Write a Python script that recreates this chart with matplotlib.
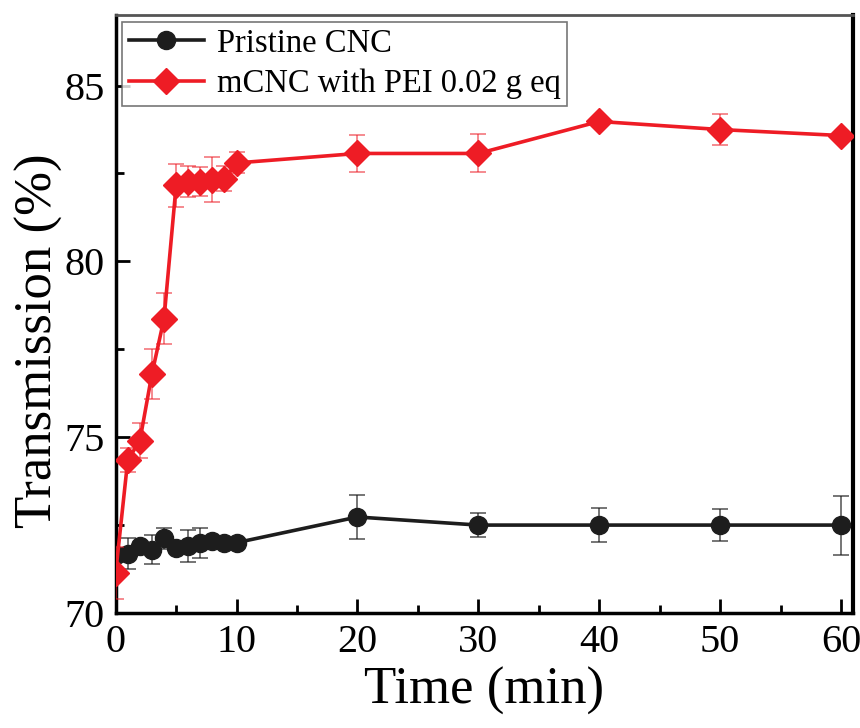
import matplotlib.pyplot as plt
from matplotlib.lines import Line2D
from matplotlib.ticker import MultipleLocator

# Données
temps = [0, 1, 2, 3, 4, 5, 6, 7, 8, 9, 10, 20, 30, 40, 50, 60]
cnc = [71.65, 71.68, 71.9, 71.8, 72.13, 71.85, 71.9, 72.0, 72.05, 72.0, 72.0,
       72.73, 72.5, 72.5, 72.5, 72.5]
cnc_err = [0.1, 0.44, 0.1, 0.42, 0.3, 0.1, 0.46, 0.43, 0.1, 0.1, 0.1,
           0.62, 0.34, 0.48, 0.45, 0.84]
mcnc = [71.14, 74.35, 74.9, 76.8, 78.37, 82.16, 82.27, 82.27, 82.32, 82.35, 82.8,
        83.07, 83.07, 83.98, 83.75, 83.58]
mcnc_err = [0.75, 0.34, 0.49, 0.7, 0.73, 0.62, 0.44, 0.42, 0.64, 0.35, 0.3,
            0.52, 0.54, 0.1, 0.44, 0.1]

noir = "#1d1d1d"
rouge = "#ee1c25"

plt.rcParams["font.family"] = ["Liberation Serif", "DejaVu Serif"]

fig = plt.figure(figsize=(8.6, 7.28), dpi=100)
ax = fig.add_axes([0.1345, 0.158, 0.8575, 0.821])

ax.errorbar(temps, cnc, yerr=cnc_err, color=noir, marker="o", markersize=13,
            linewidth=2.6, ecolor=(0.1, 0.1, 0.1, 0.7), elinewidth=1.2, capsize=6,
            capthick=1.2, zorder=3)
ax.errorbar(temps, mcnc, yerr=mcnc_err, color=rouge, marker="D", markersize=13,
            linewidth=2.6, ecolor=(0.93, 0.11, 0.15, 0.6), elinewidth=1.2, capsize=6,
            capthick=1.2, zorder=4)

ax.set_xlim(0, 61)
ax.set_ylim(70, 87)
ax.xaxis.set_major_locator(MultipleLocator(10))
ax.xaxis.set_minor_locator(MultipleLocator(5))
ax.yaxis.set_major_locator(MultipleLocator(5))
ax.yaxis.set_minor_locator(MultipleLocator(2.5))
ax.tick_params(which="major", direction="in", length=10, width=2, labelsize=29, pad=8)
ax.tick_params(which="minor", direction="in", length=6, width=2)
ax.tick_params(top=False, right=False, which="both")

for s in ["left", "bottom"]:
    ax.spines[s].set_linewidth(2.5)
ax.spines["top"].set_linewidth(2)
ax.spines["top"].set_color("#555555")
ax.spines["right"].set_linewidth(3)

ax.set_xlabel("Time (min)", fontsize=38, labelpad=4)
ax.set_ylabel("Transmission (%)", fontsize=38)
ax.yaxis.set_label_coords(-0.072, 0.455)

# Légende sans barres d'erreur
poignees = [
    Line2D([], [], color=noir, marker="o", markersize=13, linewidth=2.6),
    Line2D([], [], color=rouge, marker="D", markersize=13, linewidth=2.6),
]
leg = ax.legend(poignees, ["Pristine CNC", "mCNC with PEI 0.02 g eq"],
                loc="upper left", fontsize=23.5, frameon=True, fancybox=False,
                borderaxespad=0.2, handlelength=2.3, handletextpad=0.4,
                labelspacing=0.3, borderpad=0.2)
leg.get_frame().set_edgecolor("#555555")
leg.get_frame().set_linewidth(1.2)

fig.savefig("out.png", dpi=100)
